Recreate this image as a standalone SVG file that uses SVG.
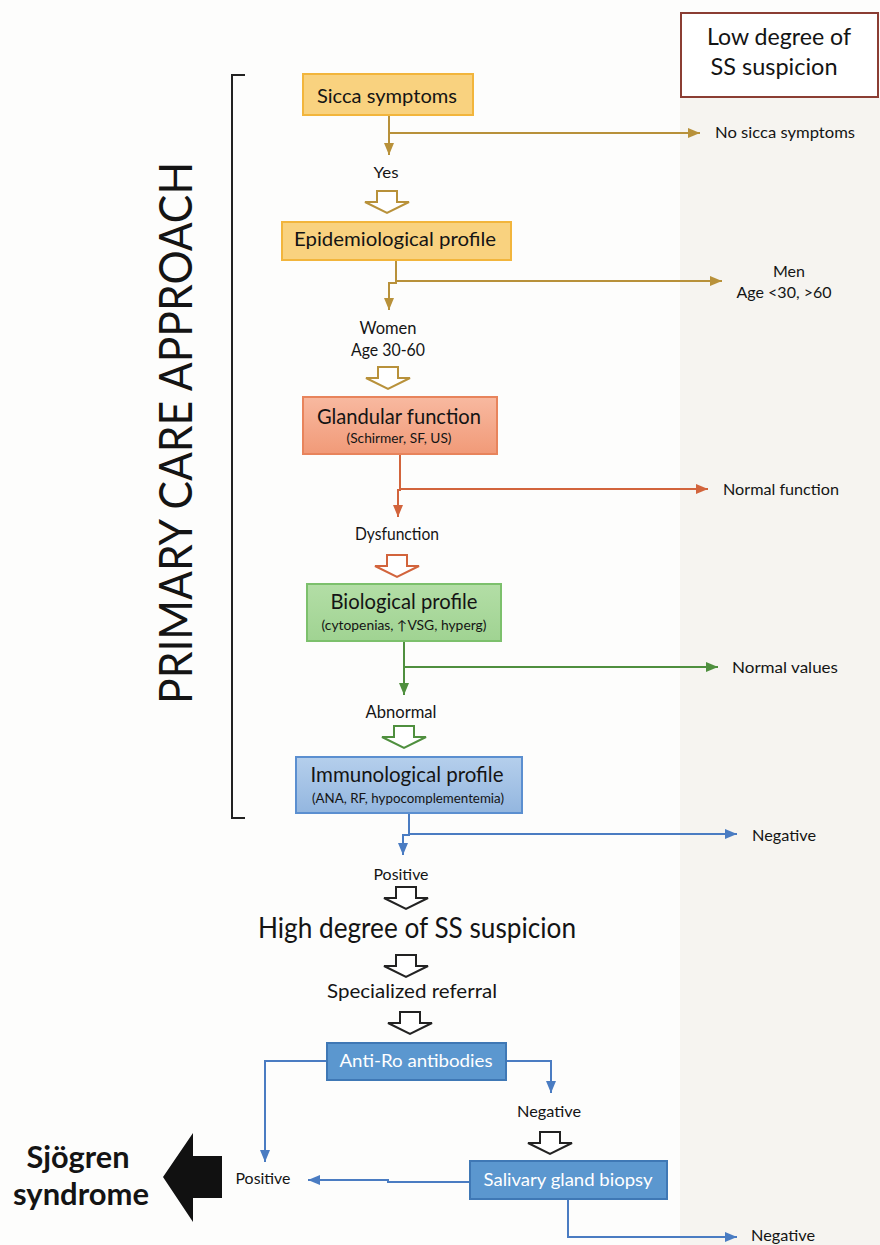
<svg xmlns="http://www.w3.org/2000/svg" xmlns:xlink="http://www.w3.org/1999/xlink" width="880" height="1245" viewBox="0 0 880 1245">
<style>
.t{font-family:Lato,"Liberation Sans",sans-serif;fill:#141414}
.m{text-anchor:middle}
.lbl{font-size:16px}
.w{fill:#ffffff}
.ln{fill:none;stroke-width:2}
.gold{stroke:#b8913a}
.org{stroke:#d2643c}
.grn{stroke:#4f8f3e}
.blu{stroke:#4a7cc2}
.blk{stroke:#222222}
.hol{fill:#ffffff;stroke-width:2}
</style>
<defs>
<marker id="aGold" markerUnits="userSpaceOnUse" markerWidth="12" markerHeight="10" refX="12" refY="5" orient="auto"><path d="M0,0 L12,5 L0,10 z" fill="#b8913a"/></marker>
<marker id="aOrg" markerUnits="userSpaceOnUse" markerWidth="12" markerHeight="10" refX="12" refY="5" orient="auto"><path d="M0,0 L12,5 L0,10 z" fill="#d2643c"/></marker>
<marker id="aGrn" markerUnits="userSpaceOnUse" markerWidth="12" markerHeight="10" refX="12" refY="5" orient="auto"><path d="M0,0 L12,5 L0,10 z" fill="#4f8f3e"/></marker>
<marker id="aBlu" markerUnits="userSpaceOnUse" markerWidth="12" markerHeight="10" refX="12" refY="5" orient="auto"><path d="M0,0 L12,5 L0,10 z" fill="#4a7cc2"/></marker>
<path id="hollow" d="M-10,-22 H10 V-11 H22 L0,0 L-22,-11 H-10 Z"/>
<linearGradient id="gSalmon" x1="0" y1="0" x2="0" y2="1"><stop offset="0" stop-color="#f8b9a0"/><stop offset="1" stop-color="#f19a78"/></linearGradient>
<linearGradient id="gGreen" x1="0" y1="0" x2="0" y2="1"><stop offset="0" stop-color="#b3dea6"/><stop offset="1" stop-color="#a0d392"/></linearGradient>
<linearGradient id="gBlue" x1="0" y1="0" x2="0" y2="1"><stop offset="0" stop-color="#b5cfec"/><stop offset="1" stop-color="#93b6df"/></linearGradient>
</defs>

<rect x="0" y="0" width="880" height="1245" fill="#fdfdfc"/>
<rect id="lowPanel" x="680" y="97" width="200" height="1148" fill="#f6f4f0"/>

<g id="lowBox">
<rect x="681" y="13" width="197" height="84" fill="#ffffff" stroke="#8b3d33" stroke-width="2"/>
<text class="t m" x="779" y="45" font-size="23" textLength="144" lengthAdjust="spacingAndGlyphs">Low degree of</text>
<text class="t m" x="774" y="75" font-size="23" textLength="127" lengthAdjust="spacingAndGlyphs">SS suspicion</text>
</g>

<g id="bracket">
<path d="M245,75 H232 V818 H245" fill="none" stroke="#222" stroke-width="2"/>
<text class="t m" transform="translate(192,433) rotate(-90)" x="0" y="0" font-size="47" textLength="542" lengthAdjust="spacingAndGlyphs" font-family="'Liberation Sans',sans-serif">PRIMARY CARE APPROACH</text>
</g>

<g id="connectors">
<path class="ln gold" d="M389,115 V155" marker-end="url(#aGold)"/>
<path class="ln gold" d="M389,133 H700" marker-end="url(#aGold)"/>
<path class="ln gold" d="M396,260 V283 H389 V310" marker-end="url(#aGold)"/>
<path class="ln gold" d="M396,281 H722" marker-end="url(#aGold)"/>
<path class="ln org" d="M400,454 V490 H398 V517" marker-end="url(#aOrg)"/>
<path class="ln org" d="M400,489 H708" marker-end="url(#aOrg)"/>
<path class="ln grn" d="M404,641 V695" marker-end="url(#aGrn)"/>
<path class="ln grn" d="M404,667 H718" marker-end="url(#aGrn)"/>
<path class="ln blu" d="M409,813 V835 H403 V855" marker-end="url(#aBlu)"/>
<path class="ln blu" d="M409,834 H737" marker-end="url(#aBlu)"/>
<path class="ln blu" d="M327,1061 H265 V1162" marker-end="url(#aBlu)"/>
<path class="ln blu" d="M506,1061 H551 V1093" marker-end="url(#aBlu)"/>
<path class="ln blu" d="M471,1182 H388 V1180 H308" marker-end="url(#aBlu)"/>
<path class="ln blu" d="M568,1199 V1237 H737" marker-end="url(#aBlu)"/>
<use href="#hollow" class="hol gold" x="387" y="213"/>
<use href="#hollow" class="hol gold" x="388" y="389"/>
<use href="#hollow" class="hol org" x="397" y="577"/>
<use href="#hollow" class="hol grn" x="404" y="748"/>
<use href="#hollow" class="hol blk" x="406" y="909"/>
<use href="#hollow" class="hol blk" x="406" y="977"/>
<use href="#hollow" class="hol blk" x="410" y="1034"/>
<use href="#hollow" class="hol blk" x="550" y="1154"/>
</g>

<g id="sicca">
<rect x="303" y="74" width="170" height="41" fill="#f9d27f" stroke="#f2b53c" stroke-width="2"/>
<text class="t m" x="387" y="103" font-size="20" textLength="140" lengthAdjust="spacingAndGlyphs">Sicca symptoms</text>
</g>
<g id="noSicca"><text class="t lbl" x="715" y="138" textLength="140" lengthAdjust="spacingAndGlyphs">No sicca symptoms</text></g>
<g id="yes"><text class="t m lbl" x="386" y="178" textLength="25" lengthAdjust="spacingAndGlyphs">Yes</text></g>

<g id="epidemiological">
<rect x="282" y="222" width="229" height="38" fill="#f9d27f" stroke="#f2b53c" stroke-width="2"/>
<text class="t m" x="395" y="246" font-size="20" textLength="202" lengthAdjust="spacingAndGlyphs">Epidemiological profile</text>
</g>
<g id="men">
<text class="t m lbl" x="789" y="277">Men</text>
<text class="t m lbl" x="784" y="298" textLength="95" lengthAdjust="spacingAndGlyphs">Age &lt;30, &gt;60</text>
</g>
<g id="women">
<text class="t m" x="388" y="334" font-size="17" textLength="57" lengthAdjust="spacingAndGlyphs">Women</text>
<text class="t m" x="388" y="356" font-size="17" textLength="74" lengthAdjust="spacingAndGlyphs">Age 30-60</text>
</g>

<g id="glandular">
<rect x="303" y="397" width="194" height="57" fill="url(#gSalmon)" stroke="#e8845c" stroke-width="2"/>
<text class="t m" x="399" y="424" font-size="21" textLength="164" lengthAdjust="spacingAndGlyphs">Glandular function</text>
<text class="t m" x="399" y="443" font-size="13" textLength="105" lengthAdjust="spacingAndGlyphs">(Schirmer, SF, US)</text>
</g>
<g id="normalFunction"><text class="t lbl" x="723" y="495" textLength="116" lengthAdjust="spacingAndGlyphs">Normal function</text></g>
<g id="dysfunction"><text class="t m" x="397" y="540" font-size="17" textLength="84" lengthAdjust="spacingAndGlyphs">Dysfunction</text></g>

<g id="biological">
<rect x="307" y="584" width="194" height="57" fill="url(#gGreen)" stroke="#7cc06c" stroke-width="2"/>
<text class="t m" x="404" y="609" font-size="21" textLength="147" lengthAdjust="spacingAndGlyphs">Biological profile</text>
<text class="t m" x="404" y="630" font-size="13" textLength="165" lengthAdjust="spacingAndGlyphs">(cytopenias, ↑VSG, hyperg)</text>
</g>
<g id="normalValues"><text class="t lbl" x="732" y="673" textLength="106" lengthAdjust="spacingAndGlyphs">Normal values</text></g>
<g id="abnormal"><text class="t m" x="401" y="718" font-size="17" textLength="71" lengthAdjust="spacingAndGlyphs">Abnormal</text></g>

<g id="immunological">
<rect x="296" y="757" width="226" height="56" fill="url(#gBlue)" stroke="#5b8fd0" stroke-width="2"/>
<text class="t m" x="407" y="782" font-size="21" textLength="193" lengthAdjust="spacingAndGlyphs">Immunological profile</text>
<text class="t m" x="408" y="803" font-size="13" textLength="192" lengthAdjust="spacingAndGlyphs">(ANA, RF, hypocomplementemia)</text>
</g>
<g id="negative1"><text class="t lbl" x="752" y="841" textLength="64" lengthAdjust="spacingAndGlyphs">Negative</text></g>
<g id="positive1"><text class="t m lbl" x="401" y="880" textLength="55" lengthAdjust="spacingAndGlyphs">Positive</text></g>

<g id="highDegree"><text class="t m" x="417" y="938" font-size="28" textLength="318" lengthAdjust="spacingAndGlyphs">High degree of SS suspicion</text></g>
<g id="referral"><text class="t m" x="412" y="998" font-size="20" textLength="170" lengthAdjust="spacingAndGlyphs">Specialized referral</text></g>

<g id="antiRo">
<rect x="327" y="1043" width="179" height="37" fill="#5b97cf" stroke="#3f78b5" stroke-width="2"/>
<text class="t m w" x="416" y="1067" font-size="18" textLength="153" lengthAdjust="spacingAndGlyphs">Anti-Ro antibodies</text>
</g>
<g id="negative2"><text class="t m lbl" x="549" y="1117" textLength="64" lengthAdjust="spacingAndGlyphs">Negative</text></g>

<g id="biopsy">
<rect x="470" y="1161" width="197" height="38" fill="#5b97cf" stroke="#3f78b5" stroke-width="2"/>
<text class="t m w" x="568" y="1186" font-size="18" textLength="169" lengthAdjust="spacingAndGlyphs">Salivary gland biopsy</text>
</g>
<g id="positive2"><text class="t m" x="263" y="1184" font-size="15" textLength="55" lengthAdjust="spacingAndGlyphs">Positive</text></g>
<g id="negative3"><text class="t lbl" x="751" y="1241" textLength="64" lengthAdjust="spacingAndGlyphs">Negative</text></g>

<g id="sjogren">
<polygon points="163,1177 193,1133 193,1156 222,1156 222,1198 193,1198 193,1222" fill="#111111"/>
<text class="t m" x="78" y="1168" font-size="31" font-weight="bold" textLength="103" lengthAdjust="spacingAndGlyphs">Sjögren</text>
<text class="t m" x="81" y="1205" font-size="31" font-weight="bold" textLength="136" lengthAdjust="spacingAndGlyphs">syndrome</text>
</g>
</svg>
